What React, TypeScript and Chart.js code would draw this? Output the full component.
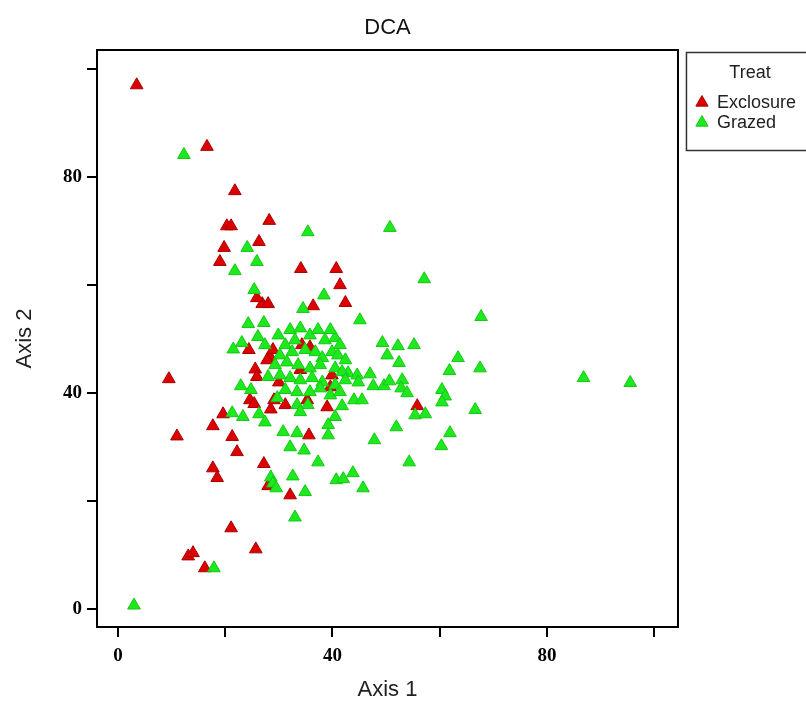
import React, { useEffect, useRef } from 'react';
import { Chart, registerables } from 'chart.js';

Chart.register(...registerables);

const chartTitle = 'DCA';
const xAxisTitle = 'Axis 1';
const yAxisTitle = 'Axis 2';
const legendTitle = 'Treat';
const exclosureName = 'Exclosure';
const grazedName = 'Grazed';

const xTicks = [0, 20, 40, 60, 80, 100];
const yTicks = [0, 20, 40, 60, 80, 100];
const labeledTicks = [0, 40, 80];

const exclosureX = [
  3.5, 16.6, 21.8, 20.3, 21.1, 28.2, 19.8, 26.3, 19.0, 34.1, 40.7, 41.4, 26.9, 28.0, 36.4, 42.4, 25.9,
  24.4, 25.6, 25.9, 9.5, 24.6, 25.4, 19.6, 28.5, 31.2, 39.0, 55.8, 17.7, 11.0, 21.3, 22.2, 35.6,
  17.7, 18.5, 27.2, 28.0, 32.1, 21.1, 13.1, 14.0, 25.7, 16.2, 30.0, 29.1, 28.5, 28.9, 34.3, 35.8,
  34.0, 39.9, 39.6, 35.3, 27.8,
];
const exclosureY = [
  97.0, 85.6, 77.4, 70.9, 70.9, 71.9, 66.9, 68.0, 64.3, 63.0, 63.0, 60.0, 56.5, 56.5, 56.1, 56.7, 57.6,
  48.0, 44.4, 43.0, 42.6, 38.7, 38.0, 36.1, 37.0, 37.8, 37.4, 37.6, 33.9, 32.0, 31.9, 29.1, 32.2,
  26.1, 24.3, 26.9, 22.8, 21.1, 15.0, 9.8, 10.4, 11.1, 7.6, 42.0, 38.7, 46.5, 48.0, 48.9, 48.5,
  44.3, 43.3, 41.1, 38.7, 46.1,
];

const grazedX = [
  3.0, 17.9, 12.3, 50.7, 35.4, 57.1, 67.7, 86.8, 95.5, 24.1, 25.9, 21.8, 25.4, 38.4, 34.5, 45.1,
  24.3, 27.2, 23.1, 21.5, 49.3, 52.2, 55.2, 50.2, 52.4, 63.4, 67.5, 61.8, 42.9, 44.6, 44.8, 47.0,
  47.6, 49.6, 50.6, 53.0, 52.8, 53.9, 60.4, 61.0, 60.4, 55.4, 57.3, 66.6, 51.9, 61.9, 60.3, 54.3,
  44.0, 45.5, 41.8, 40.5, 39.2, 39.2, 47.8, 33.4, 35.4, 21.3, 23.3, 26.3, 27.4, 30.8, 33.4, 32.1,
  34.7, 37.3, 28.5, 28.9, 29.5, 32.6, 34.9, 40.7, 42.0, 43.8, 45.7, 33.0, 22.9, 24.8, 28.0, 29.7,
  34.0,
  29.9, 32.1, 34.0, 31.2, 33.0, 35.8, 37.3, 38.6, 40.5, 41.4, 39.6, 30.2, 32.5, 34.9, 36.8, 38.1,
  39.9, 41.0, 42.4, 29.3, 31.5, 33.6, 35.8, 37.7, 40.5, 41.8, 30.2, 32.1, 34.0, 36.2, 38.1, 40.5,
  42.4, 31.2, 33.4, 35.8, 37.7, 39.6, 41.4, 26.1, 27.4,
];
const grazedY = [
  0.7, 7.6, 84.1, 70.6, 69.8, 61.1, 54.1, 42.8, 41.9, 66.9, 64.3, 62.6, 59.1, 58.1, 55.6, 53.5,
  52.8, 53.0, 49.3, 48.1, 49.3, 48.7, 48.9, 47.0, 45.6, 46.5, 44.6, 44.1, 43.7, 43.3, 42.0, 43.5,
  41.3, 41.3, 42.2, 42.4, 40.9, 40.0, 40.6, 39.4, 38.3, 35.9, 36.1, 36.9, 33.7, 32.6, 30.2, 27.2,
  38.7, 38.7, 37.6, 35.6, 34.1, 32.2, 31.3, 37.8, 37.8, 36.3, 35.6, 36.1, 34.6, 32.8, 32.6, 30.0,
  29.4, 27.2, 24.4, 23.3, 22.4, 24.6, 21.7, 23.9, 24.1, 25.2, 22.4, 17.0, 41.3, 40.6, 43.0, 39.1,
  36.5,
  50.7, 51.7, 52.0, 48.9, 49.8, 50.7, 51.7, 49.8, 50.2, 48.9, 51.7, 47.0, 47.6, 48.0, 47.6, 46.5,
  47.6, 47.0, 46.1, 45.2, 45.7, 45.2, 44.6, 45.2, 44.6, 43.9, 43.3, 42.8, 42.4, 42.8, 42.0, 41.5,
  42.4, 40.6, 40.2, 40.2, 40.9, 39.6, 40.2, 50.4, 48.9,
];

const toPoints = (xs: number[], ys: number[]) => xs.map((x, i) => ({ x, y: ys[i] }));

const sans = "'Liberation Sans', Arial, sans-serif";
const serif = "'Liberation Serif', 'Times New Roman', serif";

const framePlugin = {
  id: 'frame',
  afterDraw(chart: any) {
    const { ctx, chartArea } = chart;
    ctx.save();
    ctx.strokeStyle = '#000';
    ctx.lineWidth = 2;
    ctx.strokeRect(chartArea.left, chartArea.top, chartArea.right - chartArea.left, chartArea.bottom - chartArea.top);
    const lg = chart.legend;
    if (lg) {
      ctx.strokeStyle = '#333';
      ctx.lineWidth = 1.5;
      ctx.strokeRect(chartArea.right + 8.5, lg.top + 2.5, 200, 98);
    }
    ctx.restore();
  },
};

export default function App() {
  const ref = useRef<HTMLCanvasElement | null>(null);
  useEffect(() => {
    if (!ref.current) return;
    const chart = new Chart(ref.current, {
      type: 'scatter',
      data: {
        datasets: [
          {
            label: grazedName,
            data: toPoints(grazedX, grazedY),
            pointStyle: 'triangle',
            pointRadius: 7.3,
            backgroundColor: '#1ee81e',
            borderColor: '#14c814',
            borderWidth: 1,
          },
          {
            label: exclosureName,
            data: toPoints(exclosureX, exclosureY),
            pointStyle: 'triangle',
            pointRadius: 7.3,
            backgroundColor: '#dd0000',
            borderColor: '#a80000',
            borderWidth: 1,
          },
        ],
      },
      plugins: [framePlugin],
      options: {
        animation: false,
        responsive: false,
        events: [],
        layout: { padding: 0 },
        plugins: {
          tooltip: { enabled: false },
          title: { display: false },
          legend: {
            position: 'right',
            align: 'start',
            fullSize: false,
            reverse: true,
            title: {
              display: true,
              text: legendTitle,
              color: '#222',
              font: { family: sans, size: 18 },
              padding: { top: 14, bottom: 6 },
            },
            labels: {
              usePointStyle: true,
              boxWidth: 12,
              boxHeight: 10,
              padding: 2,
              color: '#222',
              font: { family: sans, size: 18 },
            },
          },
        },
        scales: {
          x: {
            type: 'linear',
            position: 'bottom',
            min: -3.9,
            max: 104.4,
            afterBuildTicks: (s: any) => {
              s.ticks = xTicks.map((v) => ({ value: v }));
            },
            afterFit: (s: any) => {
              s.height = 77;
            },
            ticks: {
              autoSkip: false,
              maxRotation: 0,
              padding: 8,
              color: '#000',
              font: { family: serif, size: 19, weight: 'bold' },
              callback: (v: any) => (labeledTicks.includes(Number(v)) ? String(v) : ''),
            },
            grid: { display: true, drawOnChartArea: false, drawTicks: true, tickLength: 10, color: '#000', lineWidth: 2 },
            border: { display: true, color: '#000', width: 2 },
            title: {
              display: true,
              text: xAxisTitle,
              color: '#222',
              font: { family: sans, size: 22 },
              padding: { top: 0, bottom: 1 },
            },
          },
          x2: {
            type: 'linear',
            position: 'top',
            afterFit: (s: any) => {
              s.height = 50;
            },
            ticks: { display: false },
            grid: { display: false },
            border: { display: false },
            title: {
              display: true,
              text: chartTitle,
              color: '#111',
              font: { family: sans, size: 22 },
              padding: { top: 15, bottom: 0 },
            },
          },
          y: {
            type: 'linear',
            position: 'left',
            min: -3.3,
            max: 103.5,
            afterBuildTicks: (s: any) => {
              s.ticks = yTicks.map((v) => ({ value: v }));
            },
            afterFit: (s: any) => {
              s.width = 97;
            },
            ticks: {
              autoSkip: false,
              padding: 5,
              color: '#000',
              font: { family: serif, size: 19, weight: 'bold' },
              callback: (v: any) => (labeledTicks.includes(Number(v)) ? String(v) : ''),
            },
            grid: { display: true, drawOnChartArea: false, drawTicks: true, tickLength: 10, color: '#000', lineWidth: 2 },
            border: { display: true, color: '#000', width: 2 },
            title: {
              display: true,
              text: yAxisTitle,
              color: '#222',
              font: { family: sans, size: 22 },
              padding: { top: 12, bottom: 0 },
            },
          },
          y2: {
            type: 'linear',
            position: 'right',
            afterFit: (s: any) => {
              s.width = 16;
            },
            ticks: { display: false },
            grid: { display: false },
            border: { display: false },
          },
        },
      } as any,
    });
    return () => chart.destroy();
  }, []);

  return (
    <div style={{ position: 'fixed', left: 0, top: 0, width: 806, height: 704, background: '#fff' }}>
      <canvas ref={ref} width={806} height={704} style={{ display: 'block' }} />
    </div>
  );
}
